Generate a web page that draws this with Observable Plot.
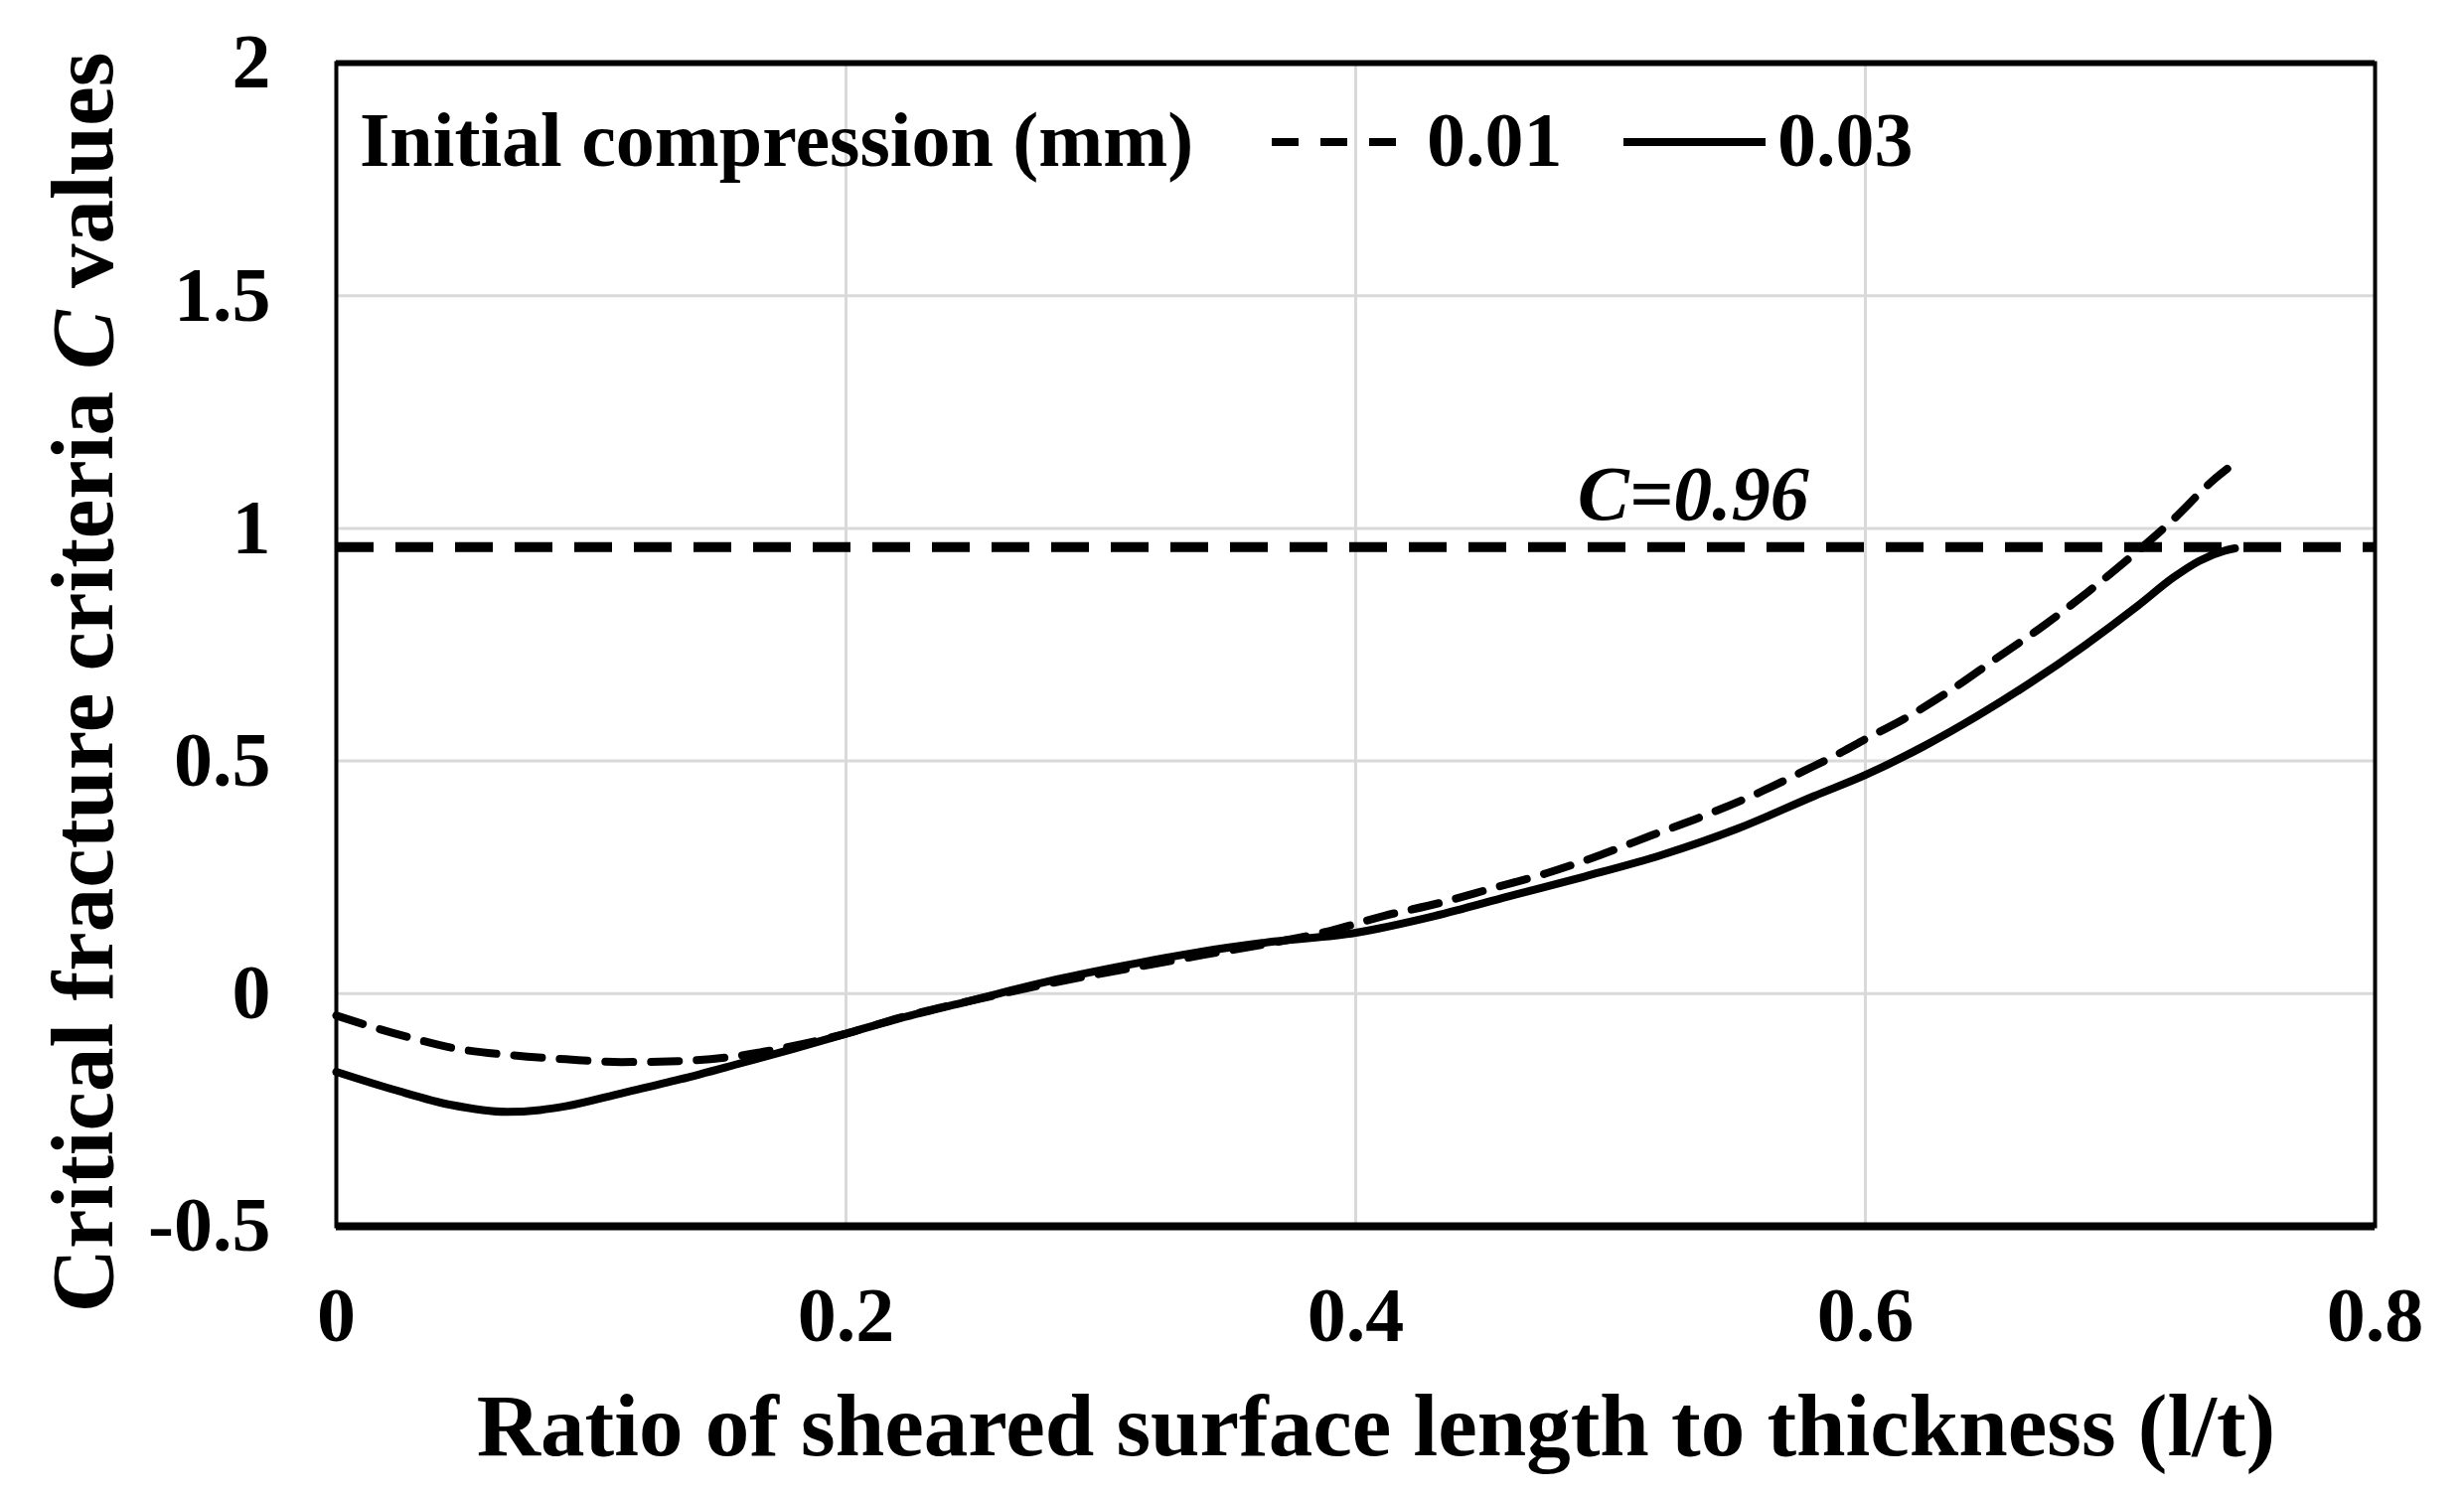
<!DOCTYPE html>
<html><head><meta charset="utf-8">
<script src="https://cdn.jsdelivr.net/npm/d3@7"></script>
<script src="https://cdn.jsdelivr.net/npm/@observablehq/plot@0.6"></script>
<style>
body{margin:0;background:#fff;}
#wrap{position:relative;width:2480px;height:1506px;}
</style></head><body><div id="wrap"></div>
<script>
// Series: initial compression 0.01 mm (dashed)
const x001 = [0, 0.015, 0.030, 0.047, 0.068, 0.090, 0.112, 0.134, 0.156, 0.177, 0.200, 0.221, 0.250, 0.280, 0.310, 0.340, 0.370, 0.390, 0.411, 0.433, 0.454, 0.475, 0.496, 0.516, 0.537, 0.557, 0.576, 0.591, 0.600, 0.615, 0.634, 0.651, 0.670, 0.687, 0.704, 0.721, 0.737, 0.742];
const y001 = [-0.047, -0.073, -0.096, -0.118, -0.132, -0.141, -0.147, -0.145, -0.135, -0.115, -0.086, -0.052, -0.014, 0.022, 0.053, 0.083, 0.112, 0.135, 0.167, 0.195, 0.227, 0.259, 0.298, 0.340, 0.383, 0.429, 0.479, 0.520, 0.547, 0.590, 0.654, 0.719, 0.791, 0.862, 0.938, 1.020, 1.106, 1.128];
// Series: initial compression 0.03 mm (solid)
const x003 = [0, 0.023, 0.045, 0.067, 0.080, 0.090, 0.112, 0.135, 0.157, 0.179, 0.200, 0.219, 0.249, 0.279, 0.309, 0.338, 0.368, 0.400, 0.431, 0.460, 0.490, 0.520, 0.550, 0.580, 0.600, 0.623, 0.644, 0.665, 0.686, 0.707, 0.721, 0.731, 0.741, 0.745];
const y003 = [-0.168, -0.207, -0.239, -0.254, -0.250, -0.242, -0.214, -0.184, -0.152, -0.119, -0.086, -0.056, -0.015, 0.026, 0.060, 0.089, 0.112, 0.131, 0.167, 0.209, 0.252, 0.298, 0.355, 0.425, 0.470, 0.532, 0.597, 0.669, 0.748, 0.834, 0.895, 0.930, 0.952, 0.957];

const xTicks = [0, 0.2, 0.4, 0.6, 0.8];
const yTicks = [-0.5, 0, 0.5, 1, 1.5, 2];
const xGrid = [0.2, 0.4, 0.6];
const criterion = 0.96;
const criterionLabel = "C=0.96";
const criterionLabelX = 0.487;
const seriesNames = ["0.01", "0.03"];
const legendTitle = "Initial compression (mm)";
const xLabel = "Ratio of sheared surface length to thickness (l/t)";
const yLabelParts = ["Critical fracture criteria ", "C", " values"];

const d001 = x001.map((x, i) => ({x, y: y001[i]}));
const d003 = x003.map((x, i) => ({x, y: y003[i]}));

const font = "'Liberation Serif','Times New Roman',serif";
const W = 2480, H = 1506, mL = 338, mR = 90, mT = 63, mB = 272;

const plot = Plot.plot({
  width: W, height: H,
  marginLeft: mL, marginRight: mR, marginTop: mT, marginBottom: mB,
  style: {fontFamily: font, fontWeight: "bold", fontSize: "78px", background: "#fff", color: "#000"},
  x: {domain: [0, 0.8], ticks: xTicks, tickFormat: d => String(d), tickSize: 0, tickPadding: 60, label: null},
  y: {domain: [-0.5, 2], ticks: yTicks, tickFormat: d => String(d), tickSize: 0, tickPadding: 66, label: null},
  marks: [
    Plot.ruleX(xGrid, {stroke: "#d9d9d9", strokeWidth: 3}),
    Plot.ruleY(yTicks, {stroke: "#d9d9d9", strokeWidth: 3}),
    Plot.ruleY([criterion], {stroke: "#000", strokeWidth: 10, strokeDasharray: "38,22"}),
    Plot.line(d001, {x: "x", y: "y", stroke: "#000", strokeWidth: 8, strokeDasharray: "28,18", curve: "monotone-x"}),
    Plot.line(d003, {x: "x", y: "y", stroke: "#000", strokeWidth: 8, curve: "monotone-x"}),
    Plot.frame({stroke: "#000", strokeWidth: 4}),
    Plot.ruleY([2], {stroke: "#000", strokeWidth: 6}),
    Plot.ruleY([-0.5], {stroke: "#000", strokeWidth: 8}),
    Plot.text([criterionLabel], {x: criterionLabelX, y: criterion, text: d => d, textAnchor: "start", lineAnchor: "middle", dy: -53, fontStyle: "italic", fontWeight: "bold", fontSize: 78, fill: "#000"})
  ]
});
document.getElementById("wrap").appendChild(plot);

const svg = d3.select(plot);
// x-axis title
svg.append("text")
  .attr("x", 1385).attr("y", 1465)
  .attr("text-anchor", "middle")
  .attr("font-family", font).attr("font-weight", "bold").attr("font-size", 89)
  .attr("fill", "#000")
  .text(xLabel);
// y-axis title
const yt = svg.append("text")
  .attr("transform", "translate(113,687) rotate(-90)")
  .attr("text-anchor", "middle")
  .attr("font-family", font).attr("font-weight", "bold").attr("font-size", 89)
  .attr("fill", "#000");
yt.append("tspan").text(yLabelParts[0]);
yt.append("tspan").attr("font-style", "italic").text(yLabelParts[1]);
yt.append("tspan").text(yLabelParts[2]);

// legend
const lg = svg.append("g").attr("font-family", font).attr("font-weight", "bold").attr("font-size", 78)
  .attr("fill", "#000").attr("text-anchor", "start");
lg.append("text").attr("x", 362).attr("y", 167).text(legendTitle);
lg.append("line").attr("x1", 1280).attr("x2", 1425).attr("y1", 143).attr("y2", 143)
  .attr("stroke", "#000").attr("stroke-width", 8).attr("stroke-dasharray", "27,22");
lg.append("text").attr("x", 1436).attr("y", 167).text(seriesNames[0]);
lg.append("line").attr("x1", 1634).attr("x2", 1777).attr("y1", 143).attr("y2", 143)
  .attr("stroke", "#000").attr("stroke-width", 8);
lg.append("text").attr("x", 1789).attr("y", 167).text(seriesNames[1]);
</script>
</body></html>
